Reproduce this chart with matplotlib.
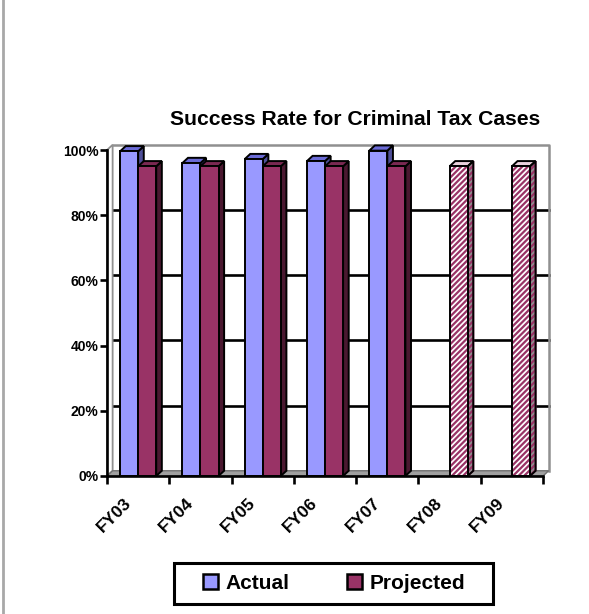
import numpy as np
import matplotlib
matplotlib.use('Agg')
import matplotlib.pyplot as plt
from matplotlib.patches import Polygon, Patch, Rectangle
from matplotlib.lines import Line2D
from matplotlib.transforms import ScaledTranslation

plt.rcParams['font.family'] = ['Liberation Sans', 'DejaVu Sans']
plt.rcParams['font.weight'] = 'bold'
plt.rcParams['hatch.linewidth'] = 1.6

# Success rate by fiscal year (percent); None = no actual figure yet
years = ['FY03', 'FY04', 'FY05', 'FY06', 'FY07', 'FY08', 'FY09']
actual = [99.6, 96.0, 97.2, 96.6, 99.8, None, None]
projected = [95, 95, 95, 95, 95, 95, 95]
y_ticks = [0, 20, 40, 60, 80, 100]

# colours: front face, top face, side face
blue = ('#9999FF', '#6B6BD6', '#4F4F99')
maroon = ('#993366', '#7A2952', '#4A1830')

bar_w = 0.29
dx, dy = 0.09, 1.6   # depth offset of the 3D look (x units, percent)
edge_lw = 1.4

fig = plt.figure(figsize=(5.89, 6.14), dpi=100)
ax = fig.add_axes([0.1817, 0.2248, 0.7403, 0.5309])
ax.set_xlim(-0.5, len(years) - 0.5)
ax.set_ylim(0, 100)

x0, x1 = -0.5, len(years) - 0.5

# back wall gridlines and border
for t in y_ticks[1:-1]:
    ax.plot([x0 + dx, x1 + dx], [t + dy, t + dy], color='black', lw=1.9, zorder=1, clip_on=False)
ax.plot([x0 + dx, x1 + dx, x1 + dx], [100 + dy, 100 + dy, dy], color='#909090', lw=1.8,
        zorder=1, clip_on=False)
# left wall
ax.add_patch(Polygon([(x0, 0), (x0 + dx, dy), (x0 + dx, 100 + dy), (x0, 100)], closed=True,
                     facecolor='white', edgecolor='#909090', lw=1.3, zorder=1, clip_on=False))
# floor
ax.add_patch(Polygon([(x0, 0), (x0 + dx, dy), (x1 + dx, dy), (x1, 0)], closed=True,
                     facecolor='#A0A0A0', edgecolor='#707070', lw=1.0, zorder=1, clip_on=False))


def bar3d(xl, val, cols, hatched=False):
    xr = xl + bar_w
    side = Polygon([(xr, 0), (xr + dx, dy), (xr + dx, val + dy), (xr, val)], closed=True,
                   facecolor='#909090' if hatched else cols[2], edgecolor='black', lw=edge_lw,
                   zorder=3, clip_on=False)
    top = Polygon([(xl, val), (xl + dx, val + dy), (xr + dx, val + dy), (xr, val)], closed=True,
                  facecolor='#E8D0DC' if hatched else cols[1], edgecolor='black', lw=edge_lw,
                  zorder=3, clip_on=False)
    ax.add_patch(side)
    ax.add_patch(top)
    if hatched:
        side.set_hatch('//////')
        side.set_edgecolor(cols[0])
        ax.add_patch(Polygon(side.get_xy(), closed=True, fill=False, edgecolor='black', lw=edge_lw,
                             zorder=3, clip_on=False))
        ax.bar(xl, val, bar_w, align='edge', color='white', edgecolor=cols[0], hatch='//////',
               lw=0, zorder=3)
        ax.bar(xl, val, bar_w, align='edge', fill=False, edgecolor='black', lw=edge_lw, zorder=3)
    else:
        ax.bar(xl, val, bar_w, align='edge', color=cols[0], edgecolor='black', lw=edge_lw, zorder=3)


for i in range(len(years)):
    if actual[i] is not None:
        bar3d(i - bar_w, actual[i], blue)
    bar3d(i, projected[i], maroon, hatched=actual[i] is None)

for s in ['top', 'right']:
    ax.spines[s].set_visible(False)
for s in ['left', 'bottom']:
    ax.spines[s].set_linewidth(1.9)
    ax.spines[s].set_zorder(4)

ax.set_yticks(y_ticks)
ax.set_yticklabels([f'{t}%' for t in y_ticks], fontsize=10, fontweight='bold')
ax.tick_params(axis='y', length=5, width=1.9, pad=1)

ax.set_xticks(np.arange(x0, x1 + 0.01, 1))
ax.set_xticklabels([])
ax.tick_params(axis='x', which='major', length=6, width=1.9)
ax.set_xticks(np.arange(len(years)), minor=True)
ax.set_xticklabels(years, minor=True, fontsize=12.5, fontweight='bold', rotation=45,
                   ha='right', va='top', rotation_mode='anchor')
ax.tick_params(axis='x', which='minor', length=0, pad=14)
shift = ScaledTranslation(-15 / 100, 0, fig.dpi_scale_trans)
for lab in ax.get_xticklabels(minor=True):
    lab.set_transform(lab.get_transform() + shift)

fig.text(0.603, 0.806, 'Success Rate for Criminal Tax Cases', ha='center', va='center',
         fontsize=15.2, fontweight='bold')

# legend with a wide box drawn around it
handles = [Patch(facecolor=blue[0], edgecolor='black', lw=1.8),
           Patch(facecolor=maroon[0], edgecolor='black', lw=1.8)]
leg = fig.legend(handles, ['Actual', 'Projected'], loc='center', bbox_to_anchor=(0.567, 0.0497),
                 ncol=2, frameon=False, prop={'size': 15, 'weight': 'bold'},
                 handlelength=0.72, handleheight=0.72, handletextpad=0.38, columnspacing=2.74,
                 borderpad=0.3)
fig.add_artist(Rectangle((174 / 589, 1 - 604 / 614), 319 / 589, 41 / 614,
                         transform=fig.transFigure, fill=False, edgecolor='black', lw=2.2))

fig.add_artist(Line2D([0.005, 0.005], [0, 1], transform=fig.transFigure, color='#A8A8A8', lw=2))

fig.savefig('out.png', dpi=100)
